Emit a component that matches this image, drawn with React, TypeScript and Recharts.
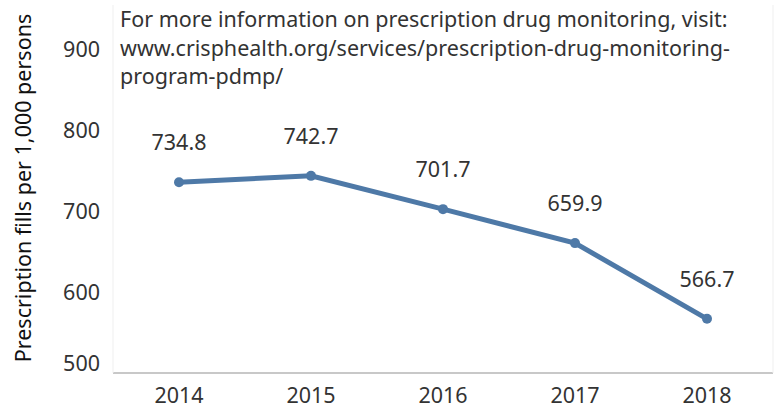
import React from 'react';
import { LineChart, Line, XAxis, YAxis, LabelList } from 'recharts';

// Data
const years = ['2014', '2015', '2016', '2017', '2018'];
const fillsPer1000 = [734.8, 742.7, 701.7, 659.9, 566.7];
const yTicks = [500, 600, 700, 800, 900];

const noteLines = [
  'For more information on prescription drug monitoring, visit:',
  'www.crisphealth.org/services/prescription-drug-monitoring-',
  'program-pdmp/',
];

const chartData = years.map((year, i) => ({ year, value: fillsPer1000[i] }));

const FONT = '"Noto Sans", sans-serif';
const FS = 21.5;
const BLUE = '#4e79a7';

const YTick = (props: any) => {
  const { x, y, payload } = props;
  // the bottom label sits a little above the axis line, as in the original
  const shift = payload.value === 500 ? -11 : 0;
  return (
    <text x={x} y={y + shift} textAnchor="end" dominantBaseline="central" fill="#333" fontSize={FS} fontFamily={FONT}>
      {payload.value}
    </text>
  );
};

const App: React.FC = () => {
  return (
    <div style={{ position: 'fixed', left: 0, top: 0, width: 776, height: 410, background: '#fff' }}>
      <LineChart width={776} height={410} data={chartData} margin={{ top: 5, right: 0, left: 0, bottom: 7 }}>
        <XAxis
          dataKey="year"
          height={30}
          padding={{ left: 66, right: 66 }}
          axisLine={{ stroke: '#c8c8c8', strokeWidth: 2 }}
          tickLine={false}
          tickSize={0}
          tickMargin={15}
          tick={{ fill: '#333', fontSize: FS, fontFamily: FONT }}
        />
        <YAxis
          yAxisId="left"
          width={113}
          domain={[500, 953]}
          ticks={yTicks}
          axisLine={{ stroke: '#efefef' }}
          tickLine={false}
          tickSize={0}
          tickMargin={13}
          tick={<YTick />}
          label={{
            content: () => (
              <text
                transform="translate(22,188) rotate(-90)"
                textAnchor="middle"
                dominantBaseline="central"
                fill="#111"
                fontSize={FS}
                fontFamily={FONT}
              >
                Prescription fills per 1,000 persons
              </text>
            ),
          }}
        />
        <YAxis yAxisId="right" orientation="right" width={3} tick={false} tickLine={false} axisLine={{ stroke: '#efefef' }} domain={[500, 953]} />
        <Line
          yAxisId="left"
          type="linear"
          dataKey="value"
          stroke={BLUE}
          strokeWidth={5}
          dot={{ r: 5, fill: BLUE, stroke: BLUE, strokeWidth: 0 }}
          activeDot={false}
          isAnimationActive={false}
        >
          <LabelList dataKey="value" position="top" offset={32} fill="#333" fontSize={FS} fontFamily={FONT} formatter={(v: any) => Number(v).toFixed(1)} />
        </Line>
      </LineChart>
      <div
        style={{
          position: 'absolute',
          left: 120,
          top: 5,
          fontFamily: FONT,
          fontSize: FS,
          lineHeight: '28.5px',
          color: '#333',
          whiteSpace: 'nowrap',
        }}
      >
        {noteLines.map((l) => (
          <div key={l}>{l}</div>
        ))}
      </div>
    </div>
  );
};

export default App;
